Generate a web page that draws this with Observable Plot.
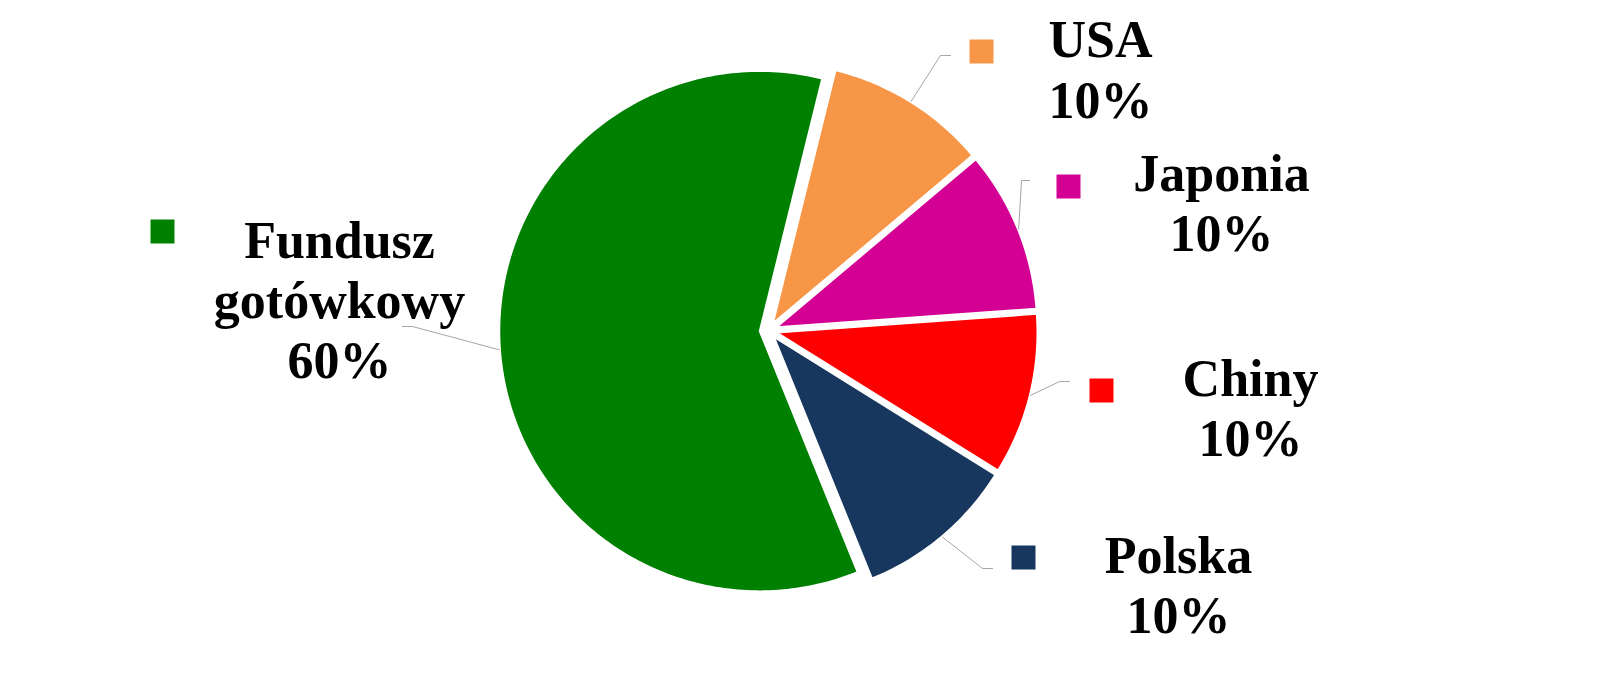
<!DOCTYPE html>
<html>
<head>
<meta charset="utf-8">
<script src="https://cdn.jsdelivr.net/npm/d3@7"></script>
<script src="https://cdn.jsdelivr.net/npm/@observablehq/plot@0.6"></script>
<style>
  html, body { margin: 0; padding: 0; background: #ffffff; }
  #chart svg { display: block; }
</style>
</head>
<body>
<div id="chart"></div>
<script>
// ---------- data ----------
const categories = ["USA", "Japonia", "Chiny", "Polska", "Fundusz gotówkowy"];
const shares = [10, 10, 10, 10, 60];
const labelLines = [["USA"], ["Japonia"], ["Chiny"], ["Polska"], ["Fundusz", "gotówkowy"]];
const colors = ["#F79646", "#D40094", "#FF0000", "#17375E", "#008000"];

// ---------- layout (pixels) ----------
const W = 1600, H = 680;
const CX = 768, CY = 330, R = 260, EXPLODE = 9;
const START = 13.9 * Math.PI / 180;
const FONT = "'Liberation Serif', 'Times New Roman', serif";
const FONT_SIZE = 52;
const labelLayout = [
  {square: [981, 51],   textX: 1100, baselines: [56, 117],       elbow: [940, 55],  end: [950, 55]},
  {square: [1068, 186], textX: 1221, baselines: [190, 250],      elbow: [1021, 180], end: [1029, 180]},
  {square: [1101, 390], textX: 1250, baselines: [395, 455],      elbow: [1059, 381], end: [1069, 381]},
  {square: [1023, 557], textX: 1178, baselines: [572, 632],      elbow: [982, 568], end: [992, 568]},
  {square: [162, 231],  textX: 339,  baselines: [257, 317, 377], elbow: [412, 326], end: [402, 326]}
];

// ---------- geometry from data ----------
const arcs = d3.pie().sort(null).startAngle(START).endAngle(START + 2 * Math.PI)(shares);
const pt = (cx, cy, a, d) => [cx + d * Math.sin(a), cy - d * Math.cos(a)];

const slicePts = [];
const leaderPts = [];
const squares = [];
const texts = [];
arcs.forEach((arc, i) => {
  const name = categories[i];
  const mid = (arc.startAngle + arc.endAngle) / 2;
  const [ax, ay] = pt(CX, CY, mid, EXPLODE);
  slicePts.push({name, x: ax, y: ay});
  const n = Math.max(8, Math.ceil((arc.endAngle - arc.startAngle) / (Math.PI / 180)));
  for (let k = 0; k <= n; k++) {
    const a = arc.startAngle + (arc.endAngle - arc.startAngle) * k / n;
    const [x, y] = pt(ax, ay, a, R);
    slicePts.push({name, x, y});
  }
  const L = labelLayout[i];
  const [sx, sy] = pt(CX, CY, mid, EXPLODE + R + 1);
  leaderPts.push({name, x: sx, y: sy}, {name, x: L.elbow[0], y: L.elbow[1]}, {name, x: L.end[0], y: L.end[1]});
  squares.push({name, x: L.square[0], y: L.square[1]});
  const lines = [...labelLines[i], `${shares[i]}%`];
  lines.forEach((t, j) => texts.push({text: t, x: L.textX, y: L.baselines[j]}));
});

const chart = Plot.plot({
  width: W,
  height: H,
  margin: 0,
  x: {domain: [0, W], range: [0, W], axis: null},
  y: {domain: [0, H], range: [0, H], axis: null},
  color: {domain: categories, range: colors},
  style: {background: "#ffffff", fontFamily: FONT},
  marks: [
    Plot.line(slicePts, {x: "x", y: "y", z: "name", fill: "name", stroke: "#ffffff", strokeWidth: 1.5, curve: "linear-closed"}),
    Plot.line(leaderPts, {x: "x", y: "y", z: "name", stroke: "#A6A6A6", strokeWidth: 1}),
    Plot.dot(squares, {x: "x", y: "y", fill: "name", symbol: "square", r: 24 / Math.sqrt(Math.PI), stroke: null}),
    Plot.text(texts, {x: "x", y: "y", text: "text", textAnchor: "middle", lineAnchor: "bottom",
      fontFamily: FONT, fontWeight: "bold", fontSize: FONT_SIZE, fill: "#000000"})
  ]
});
document.getElementById("chart").appendChild(chart);
</script>
</body>
</html>
